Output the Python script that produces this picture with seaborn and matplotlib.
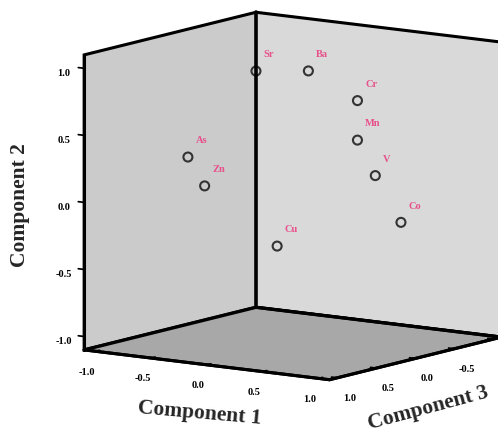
import numpy as np
import pandas as pd
import matplotlib
matplotlib.use('Agg')
import matplotlib.pyplot as plt
import seaborn as sns
from matplotlib.ticker import FixedLocator, FormatStrFormatter

labels = ['Sr', 'Ba', 'Cr', 'Mn', 'V', 'Co', 'As', 'Zn', 'Cu']
comp1 = [-0.26, 0.28, 0.58, 0.79, 0.88, 0.90, -0.73, -0.58, 0.21]
comp2 = [0.92, 0.99, 0.77, 0.54, 0.27, -0.12, 0.26, 0.06, -0.28]
comp3 = [0.10, 0.20, 0.00, 0.30, 0.20, -0.10, 0.30, 0.30, 0.50]
ticks = [-1.0, -0.5, 0.0, 0.5, 1.0]

sns.set_theme(style='white')
plt.rcParams['font.family'] = ['Liberation Serif', 'DejaVu Serif']
plt.rcParams['axes.unicode_minus'] = False

df = pd.DataFrame({'label': labels, 'c1': comp1, 'c2': comp2, 'c3': comp3})

fig = plt.figure(figsize=(4.98, 4.38), dpi=100)
fig.patch.set_facecolor('white')
ax = fig.add_axes([0.076, 0.039, 1.0, 1.0], projection='3d', proj_type='ortho')
ax.set_facecolor((1, 1, 1, 0))
ax.view_init(elev=10, azim=-55)
ax.set_box_aspect((1, 1, 1), zoom=1.15)

lim = 1.1
ax.set_xlim(-lim, lim)
ax.set_ylim(lim, -lim)
ax.set_zlim(-lim, lim)

# box edges along the floor / back corner
ax.plot([-lim, -lim], [lim, -lim], [-lim, -lim], color='black', lw=2.4)
ax.plot([-lim, lim], [-lim, -lim], [-lim, -lim], color='black', lw=2.4)
ax.plot([-lim, -lim], [-lim, -lim], [-lim, lim], color='black', lw=2.6)

ax.scatter(df['c1'], df['c3'], df['c2'], s=42, facecolors='none',
           edgecolors='#333333', linewidths=1.5, depthshade=False)
for _, r in df.iterrows():
    ax.text(r['c1'] + 0.07, r['c3'], r['c2'] + 0.11, r['label'],
            color='#e8508a', fontsize=7.5, fontweight='bold')

ax.grid(False)
panes = {ax.xaxis: '#cbcbcb', ax.yaxis: '#d9d9d9', ax.zaxis: '#a8a8a8'}
for axis, col in panes.items():
    axis.set_pane_color(col)
    axis.pane.set_edgecolor('black')
    axis.pane.set_linewidth(2.2)
    axis.line.set_color('black')
    axis.line.set_linewidth(2.2)
    axis.set_major_locator(FixedLocator(ticks))
    axis.set_major_formatter(FormatStrFormatter('%.1f'))
    axis._axinfo['tick']['inward_factor'] = 0.0
    axis._axinfo['tick']['outward_factor'] = 0.3
    axis._axinfo['tick']['color'] = 'black'
ax.zaxis._axinfo['juggled'] = (1, 2, 0)

ax.tick_params(axis='both', labelsize=7.5, colors='black', pad=0)
for lab in ax.get_xticklabels() + ax.get_yticklabels() + ax.get_zticklabels():
    lab.set_fontweight('bold')

fig.text(200 / 498, 1 - 413 / 438, 'Component 1', fontsize=15.5, fontweight='bold',
         rotation=-5, ha='center', va='center')
fig.text(428 / 498, 1 - 408 / 438, 'Component 3', fontsize=15.5, fontweight='bold',
         rotation=15, ha='center', va='center')
fig.text(20 / 498, 1 - 205 / 438, 'Component 2', fontsize=15.5, fontweight='bold',
         rotation=90, ha='center', va='center')

fig.savefig('out.png', dpi=100)
